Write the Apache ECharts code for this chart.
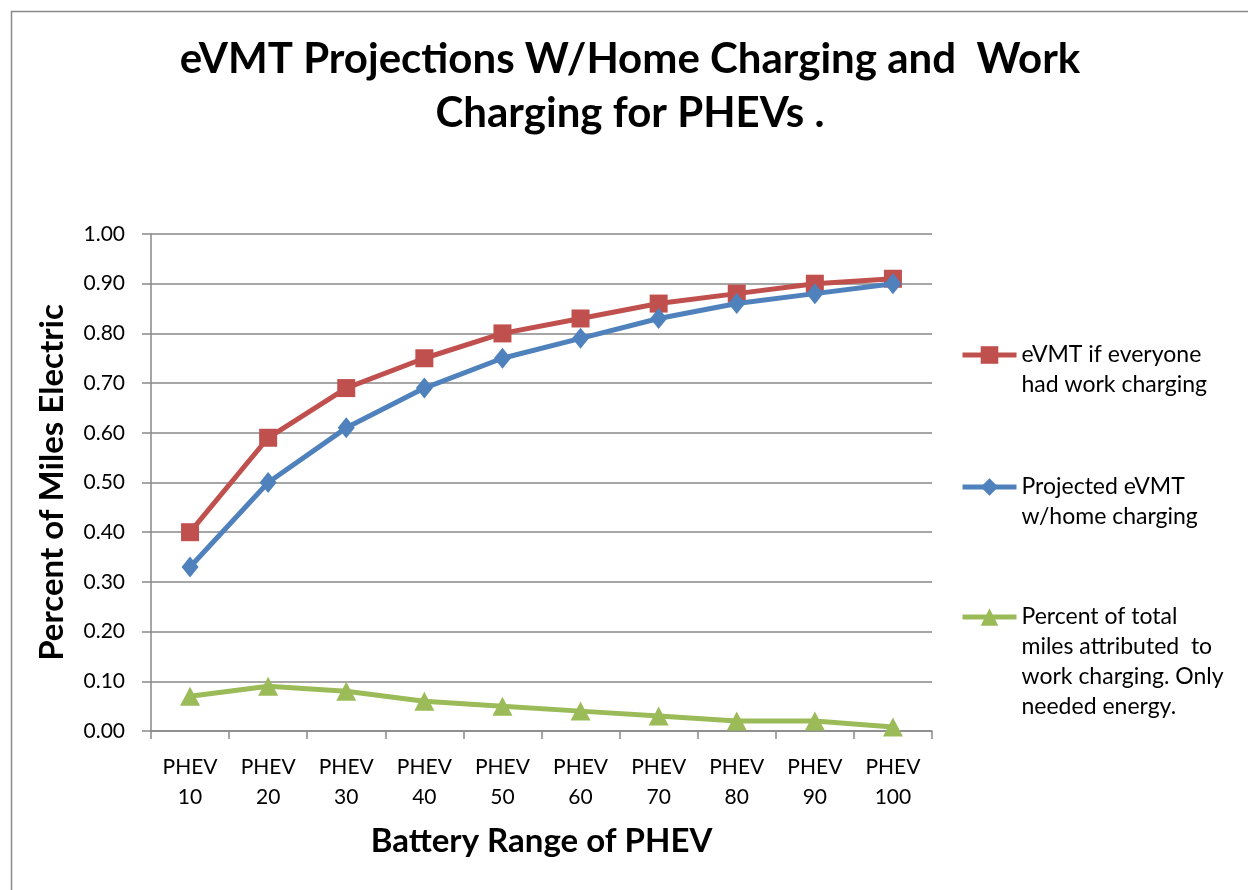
<html>
<head>
<meta charset="utf-8" />
<title>eVMT Projections</title>
<style>
	*{
		margin: 0;
		padding: 0;
	}
	body{
		background: #ffffff;
		overflow: hidden;
	}
	.chart_show{
		width: 1248px;
		height: 890px;
	}
</style>
<script src="https://cdn.jsdelivr.net/npm/echarts@6/dist/echarts.min.js"></script>
</head>
<body>
	<div id="chart_show" class="chart_show"></div>
</body>
</html>

<script>
	// 数据
	var categories = ['PHEV\n10','PHEV\n20','PHEV\n30','PHEV\n40','PHEV\n50','PHEV\n60','PHEV\n70','PHEV\n80','PHEV\n90','PHEV\n100'];
	var workCharging = [0.40, 0.59, 0.69, 0.75, 0.80, 0.83, 0.86, 0.88, 0.90, 0.91];
	var homeCharging = [0.33, 0.50, 0.61, 0.69, 0.75, 0.79, 0.83, 0.86, 0.88, 0.90];
	var workShare = [0.07, 0.09, 0.08, 0.06, 0.05, 0.04, 0.03, 0.02, 0.02, 0.008];
	var yTicks = [0, 1, 0.1];  // min, max, interval

	var nameWork = 'eVMT if everyone had work charging';
	var nameHome = 'Projected eVMT w/home charging';
	var nameShare = 'Percent of total miles attributed to work charging. Only needed energy.';
	// 图例换行
	var legendText = {};
	legendText[nameWork] = ['eVMT if everyone', 'had work charging'];
	legendText[nameHome] = ['Projected eVMT', 'w/home charging'];
	legendText[nameShare] = ['Percent of total', 'miles attributed  to', 'work charging. Only', 'needed energy.'];

	var font = 'Lato, "Open Sans", sans-serif';
	var gray = '#898989';
	var lh = 30;

	// 每个图例单独一个, 图标对齐第一行 (前面补空行)
	function legendBox(name, iconY){
		var lines = legendText[name];
		var n = lines.length;
		var pad = '';
		for(var i = 1; i < n; i++){ pad += ' \n'; }
		return {
			data: [name],
			orient: 'vertical',
			left: 960,
			top: iconY - (2 * n - 1) * lh / 2,
			padding: 0,
			itemWidth: 54,
			itemHeight: 22,
			itemGap: 0,
			selectedMode: false,
			lineStyle: {width: 5},
			formatter: function(nm){ return pad + legendText[nm].join('\n'); },
			textStyle: {
				fontFamily: font,
				fontSize: 23,
				color: '#000',
				lineHeight: lh
			}
		};
	}

	window.onload = function(){
		var oChart = echarts.init(document.getElementById('chart_show'));
		var chartopt = {
			backgroundColor: '#ffffff',
			animation: false,
			title: {
				text: 'eVMT Projections W/Home Charging and  Work\nCharging for PHEVs .',
				left: 625,
				top: 27,
				textAlign: 'center',
				textStyle: {
					fontFamily: font,
					fontSize: 42,
					fontWeight: 'bold',
					color: '#000',
					lineHeight: 54
				}
			},
			legend: [
				legendBox(nameWork, 355),
				legendBox(nameHome, 487),
				legendBox(nameShare, 617)
			],
			graphic: [{
				type: 'rect',
				left: 9,
				top: 9,
				shape: {width: 1300, height: 1000},
				style: {fill: 'none', stroke: gray, lineWidth: 1.5},
				silent: true
			}],
			grid: {
				left: 151,
				right: 316,
				top: 234,
				bottom: 159
			},
			xAxis: {
				type: 'category',
				data: categories,
				boundaryGap: true,
				name: 'Battery Range of PHEV',
				nameLocation: 'middle',
				nameGap: 94,
				nameTextStyle: {
					fontFamily: font,
					fontSize: 33,
					fontWeight: 'bold',
					color: '#000'
				},
				axisLine: {lineStyle: {color: gray, width: 1.5}},
				axisTick: {show: true, length: 8, inside: false, alignWithLabel: false, lineStyle: {color: gray, width: 1.5}},
				axisLabel: {
					fontFamily: font,
					fontSize: 21,
					color: '#000',
					lineHeight: 30,
					margin: 21,
					interval: 0
				},
				splitLine: {show: false}
			},
			yAxis: {
				type: 'value',
				min: yTicks[0],
				max: yTicks[1],
				interval: yTicks[2],
				name: 'Percent of Miles Electric',
				nameLocation: 'middle',
				nameGap: 82,
				nameTextStyle: {
					fontFamily: font,
					fontSize: 33,
					fontWeight: 'bold',
					color: '#000'
				},
				axisLine: {show: true, lineStyle: {color: gray, width: 1.5}},
				axisTick: {show: true, length: 9, lineStyle: {color: gray, width: 1.5}},
				axisLabel: {
					fontFamily: font,
					fontSize: 21,
					color: '#000',
					margin: 26,
					formatter: function(v){ return v.toFixed(2); }
				},
				splitLine: {show: true, lineStyle: {color: gray, width: 1.5}}
			},
			series: [
				{
					name: nameWork,
					type: 'line',
					data: workCharging,
					symbol: 'rect',
					symbolSize: 18,
					color: '#C0504D',
					lineStyle: {width: 5, color: '#C0504D'},
					itemStyle: {color: '#C0504D'},
					z: 3
				},
				{
					name: nameHome,
					type: 'line',
					data: homeCharging,
					symbol: 'diamond',
					symbolSize: [17, 21],
					color: '#4F81BD',
					lineStyle: {width: 5, color: '#4F81BD'},
					itemStyle: {color: '#4F81BD'},
					z: 4
				},
				{
					name: nameShare,
					type: 'line',
					data: workShare,
					symbol: 'triangle',
					symbolSize: [20, 19],
					color: '#9BBB59',
					lineStyle: {width: 5, color: '#9BBB59'},
					itemStyle: {color: '#9BBB59'},
					z: 2
				}
			]
		};
		oChart.setOption(chartopt);
	};
</script>
